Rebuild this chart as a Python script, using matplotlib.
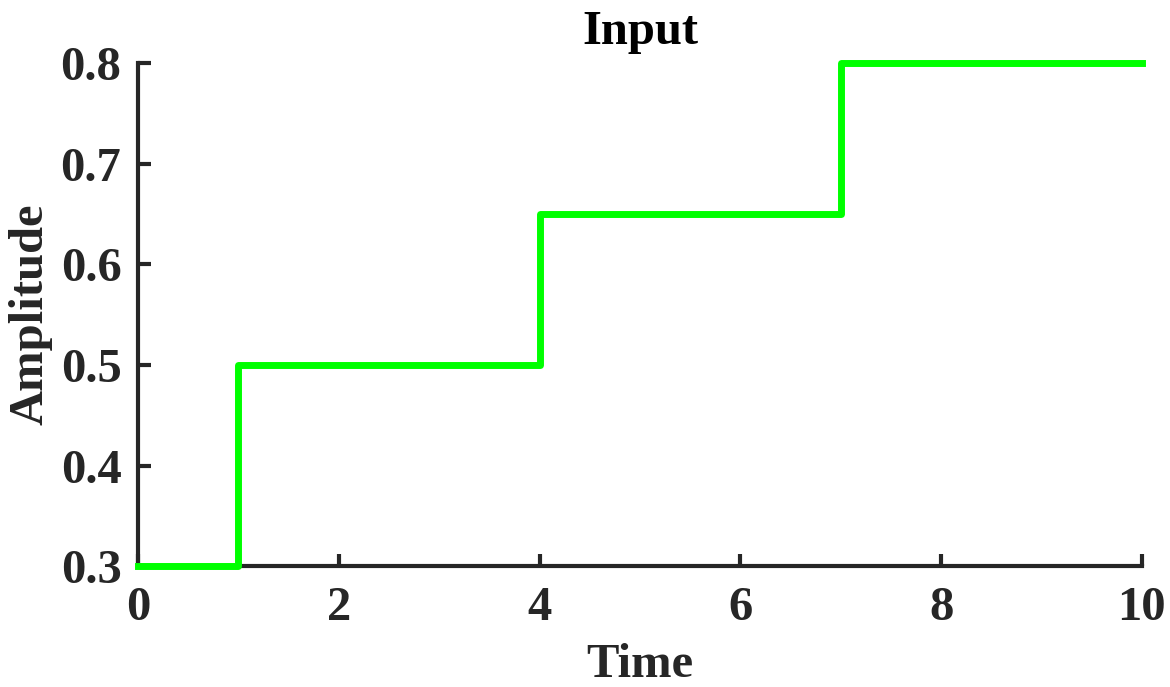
import matplotlib.pyplot as plt

# step input signal
time = [0, 1, 4, 7, 10]
amplitude = [0.3, 0.5, 0.65, 0.8, 0.8]

x_ticks = [0, 2, 4, 6, 8, 10]
y_ticks = [0.3, 0.4, 0.5, 0.6, 0.7, 0.8]

plt.rcParams['font.family'] = ['Liberation Serif', 'DejaVu Serif']
plt.rcParams['font.weight'] = 'bold'

fig = plt.figure(figsize=(11.7, 6.87), dpi=100)
ax = fig.add_axes([0.118, 0.176, 0.858, 0.732])

ax.plot(time, amplitude, drawstyle='steps-post', color='#00ff00', linewidth=5,
        zorder=5, clip_on=False)

ax.set_xlim(0, 10)
ax.set_ylim(0.3, 0.8)
ax.set_xticks(x_ticks)
ax.set_yticks(y_ticks)
ax.set_xticklabels([str(t) for t in x_ticks])
ax.set_yticklabels([f"{t:.1f}" for t in y_ticks])

for side in ['top', 'right']:
    ax.spines[side].set_visible(False)
for side in ['left', 'bottom']:
    ax.spines[side].set_linewidth(3)
    ax.spines[side].set_color('#262626')

ax.tick_params(direction='in', length=9, width=3, color='#262626',
               labelsize=35, labelcolor='#262626', pad=12)
ax.tick_params(axis='x', pad=14)

ax.set_title('Input', fontsize=35, fontweight='bold', color='black', pad=14)
ax.set_xlabel('Time', fontsize=35, fontweight='bold', color='#262626', labelpad=10)
ax.set_ylabel('Amplitude', fontsize=35, fontweight='bold', color='#262626', labelpad=6)

fig.savefig('out.png', dpi=100)
